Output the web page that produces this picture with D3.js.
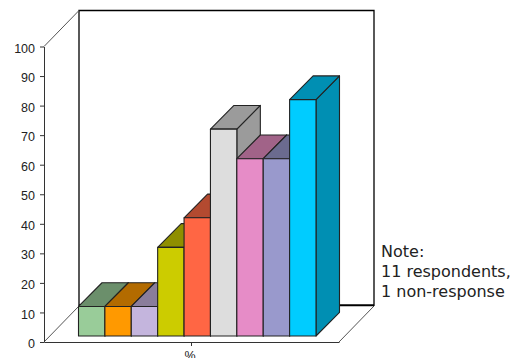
<!DOCTYPE html>
<html>
<head>
<meta charset="utf-8">
<script src="https://d3js.org/d3.v7.min.js"></script>
<style>
html, body { margin: 0; padding: 0; background: #fff; }
svg { display: block; }
.axis text { font-family: "Liberation Sans", Arial, sans-serif; font-size: 12.5px; fill: #222; }
.note { font-family: "DejaVu Sans", Verdana, sans-serif; font-size: 16px; fill: #222; }
</style>
</head>
<body>
<div id="chart"></div>
<script>
'use strict';

const values = [10, 10, 10, 30, 40, 70, 60, 60, 80];
const front_colors = ['#99cc99', '#ff9900', '#c4b5dd', '#cccc00', '#ff6644', '#dddddd', '#e68cc7', '#9999cc', '#00ccff'];
const dark_colors = ['#6b8f6b', '#b36b00', '#8a7d9b', '#8f8f00', '#b34a30', '#9b9b9b', '#a16388', '#6b6b8f', '#008fb3'];
const y_ticks = [0, 10, 20, 30, 40, 50, 60, 70, 80, 90, 100];
const x_labels = ['%'];
const note_lines = ['Note:', '11 respondents,', '1 non-response'];

const svg_width = 512, svg_height = 358;
const plot = {left: 44, right: 339, top: 46.5, bottom: 342};
const wall = {dx: 35, dy: -36};       // offset of back wall from front plane
const bar_base = {x0: 78.5, x1: 316, y: -6}; // bars stand a little behind the front edge
const depth = {dx: 23.5, dy: -23.7};

const svg = d3.select('#chart').append('svg')
    .attr('width', svg_width)
    .attr('height', svg_height);

const scale_y = d3.scaleLinear().domain([0, 100]).range([plot.bottom, plot.top]);
const scale_x = d3.scaleBand().domain(x_labels).range([plot.left, plot.right]);
const scale_bar = d3.scaleBand().domain(d3.range(values.length)).range([bar_base.x0, bar_base.x1]);

// Back wall and floor
const frame = svg.append('g').attr('fill', 'none');
const back_l = plot.left + wall.dx, back_r = plot.right + wall.dx;
const back_t = plot.top + wall.dy, back_b = plot.bottom + wall.dy;

frame.append('path')
    .attr('d', `M${back_l},${back_b}V${back_t}H${back_r}V${back_b}`)
    .attr('stroke', '#000').attr('stroke-width', 1.3);
frame.append('path')
    .attr('d', `M${plot.left},${plot.top}L${back_l},${back_t}`)
    .attr('stroke', '#555');
frame.append('path')
    .attr('d', `M${plot.left},${plot.bottom}L${back_l},${back_b}`)
    .attr('stroke', '#555');
frame.append('path')
    .attr('d', `M${plot.right},${plot.bottom}L${back_r},${back_b}`)
    .attr('stroke', '#555');
frame.append('path')
    .attr('d', `M${back_l},${back_b - 0.7}H${back_r}`)
    .attr('stroke', '#000').attr('stroke-width', 2);

// Axes
svg.append('g')
    .attr('class', 'axis')
    .attr('transform', `translate(${plot.left},0)`)
    .call(d3.axisLeft(scale_y).tickValues(y_ticks).tickSize(4).tickSizeOuter(0).tickPadding(5).tickFormat(d3.format('d')))
    .call(g => g.selectAll('path, line').attr('stroke', '#333'))
    .call(g => g.selectAll('text').attr('dy', '0.45em'));

svg.append('g')
    .attr('class', 'axis')
    .attr('transform', `translate(0,${plot.bottom})`)
    .call(d3.axisBottom(scale_x).tickSize(4).tickSizeOuter(0).tickPadding(5))
    .call(g => g.selectAll('path, line').attr('stroke', '#333'))
    .call(g => g.selectAll('text').attr('dx', -1.5));

// Bars, left to right so later ones cover earlier sides
const bars = svg.append('g')
    .selectAll('g')
    .data(values)
    .join('g')
    .attr('stroke', '#222')
    .attr('stroke-width', 1.1)
    .attr('stroke-linejoin', 'round');

const bar_top = d => scale_y(d) + bar_base.y;
const bar_bottom = scale_y(0) + bar_base.y;

bars.append('path') // side
    .attr('fill', (d, i) => dark_colors[i])
    .attr('d', (d, i) => {
        const x = scale_bar(i) + scale_bar.bandwidth();
        return `M${x},${bar_top(d)}l${depth.dx},${depth.dy}V${bar_bottom + depth.dy}L${x},${bar_bottom}Z`;
    });

bars.append('path') // top
    .attr('fill', (d, i) => dark_colors[i])
    .attr('d', (d, i) => `M${scale_bar(i)},${bar_top(d)}l${depth.dx},${depth.dy}h${scale_bar.bandwidth()}l${-depth.dx},${-depth.dy}Z`);

bars.append('rect') // front
    .attr('fill', (d, i) => front_colors[i])
    .attr('x', (d, i) => scale_bar(i))
    .attr('y', d => bar_top(d))
    .attr('width', scale_bar.bandwidth())
    .attr('height', d => bar_bottom - bar_top(d));

// Note
svg.append('g')
    .selectAll('text')
    .data(note_lines)
    .join('text')
    .attr('class', 'note')
    .attr('x', 381)
    .attr('y', (d, i) => 257 + i * 20)
    .text(d => d);
</script>
</body>
</html>
